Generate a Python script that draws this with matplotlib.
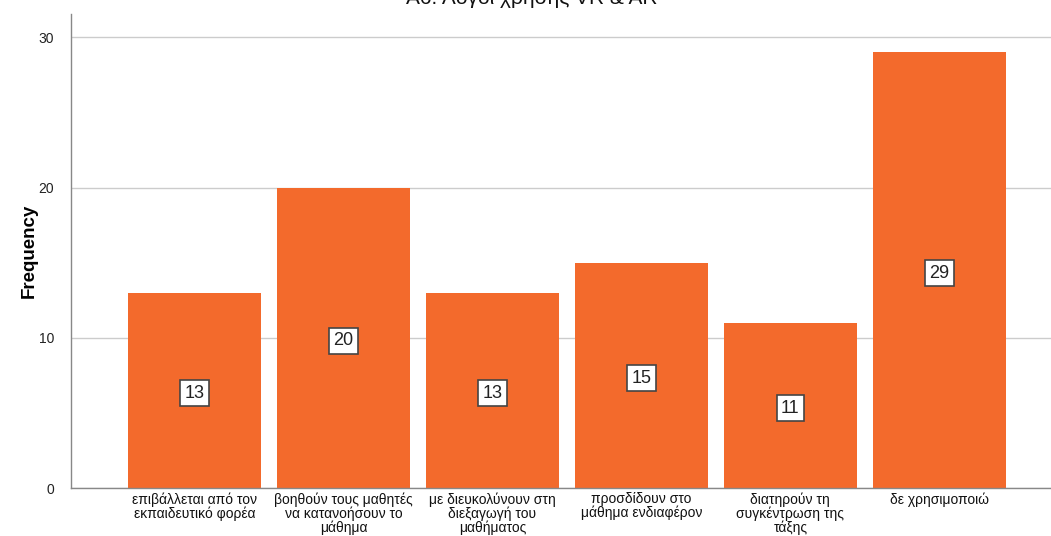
import matplotlib
matplotlib.use("Agg")
import matplotlib.pyplot as plt

plt.rcParams["font.family"] = ["Liberation Sans", "DejaVu Sans"]

TITLE = "Α6. Λόγοι χρήσης VR & AR"
categories = [
    "επιβάλλεται από τον\nεκπαιδευτικό φορέα",
    "βοηθούν τους μαθητές\nνα κατανοήσουν το\nμάθημα",
    "με διευκολύνουν στη\nδιεξαγωγή του\nμαθήματος",
    "προσδίδουν στο\nμάθημα ενδιαφέρον",
    "διατηρούν τη\nσυγκέντρωση της\nτάξης",
    "δε χρησιμοποιώ",
]
counts = [13, 20, 13, 15, 11, 29]
y_ticks = [0, 10, 20, 30]

BAR_COLOR = "#F36A2C"

fig = plt.figure(figsize=(10.51, 5.36), dpi=100)
ax = fig.add_axes([71 / 1051, 48 / 536, 1 - 71 / 1051, 474 / 536])

x = list(range(len(categories)))
ax.bar(x, counts, width=0.89, color=BAR_COLOR, zorder=2)

for xi, v in zip(x, counts):
    ax.text(xi, v / 2 - 0.2, str(v), ha="center", va="center", fontsize=13,
            color="#222222", zorder=3,
            bbox=dict(boxstyle="square,pad=0.25", fc="white", ec="#444444", lw=1.2))

ax.set_xlim(-0.83, 5.75)
ax.set_ylim(0, 31.55)
ax.set_yticks(y_ticks)
ax.set_yticklabels([str(t) for t in y_ticks], fontsize=10, color="#222222")
ax.set_xticks(x)
ax.set_xticklabels(categories, fontsize=10, color="#111111", linespacing=0.95)
ax.tick_params(axis="both", length=0)
ax.tick_params(axis="y", pad=12)
ax.tick_params(axis="x", pad=3)

ax.yaxis.grid(True, color="#CCCCCC", lw=1.0, zorder=0)
ax.set_axisbelow(True)
for side in ("top", "right"):
    ax.spines[side].set_visible(False)
for side in ("left", "bottom"):
    ax.spines[side].set_color("#888888")
    ax.spines[side].set_linewidth(1.0)

ax.set_ylabel("Frequency", fontsize=13.5, fontweight="bold", labelpad=1)

# title sits partly above the top edge, as in the source image
fig.text(532 / 1051, 1.004, TITLE, ha="center", va="center",
         fontsize=15, color="#111111")

fig.savefig("out.png", dpi=100)
